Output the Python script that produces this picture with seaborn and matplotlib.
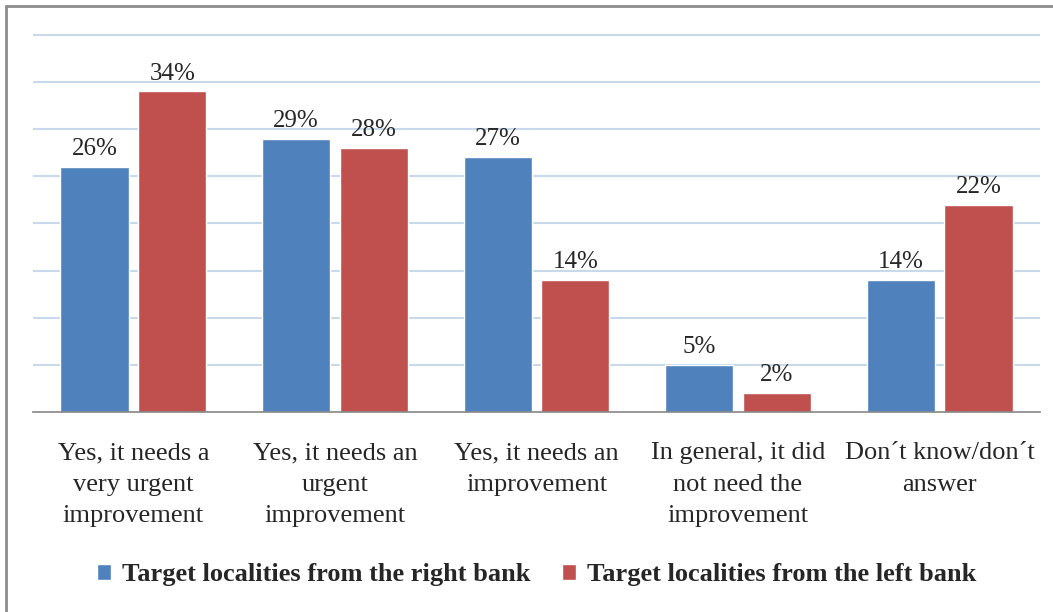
import numpy as np
import pandas as pd
import seaborn as sns
import matplotlib.pyplot as plt
from matplotlib.lines import Line2D

categories = ["Yes, it needs a\nvery urgent\nimprovement",
              "Yes, it needs an\nurgent\nimprovement",
              "Yes, it needs an\nimprovement",
              "In general, it did\nnot need the\nimprovement",
              "Don\u00b4t know/don\u00b4t\nanswer"]
series = ["Target localities from the right bank", "Target localities from the left bank"]
right_bank = [26, 29, 27, 5, 14]
left_bank = [34, 28, 14, 2, 22]

df = pd.DataFrame({
    "category": categories * 2,
    "group": [series[0]] * 5 + [series[1]] * 5,
    "value": right_bank + left_bank,
})

sns.set_style("white")
plt.rcParams["font.family"] = ["Liberation Serif", "DejaVu Serif"]

fig = plt.figure(figsize=(10.53, 6.12), dpi=100)
ax = fig.add_axes([0.031, 0.327, 0.957, 0.619])

sns.barplot(data=df, x="category", y="value", hue="group", order=categories,
            hue_order=series, palette=["#4F81BD", "#C0504D"],
            width=0.77, gap=0.12, saturation=1, ax=ax, legend=True)

ax.set_ylim(0, 40.2)
ax.set_xlim(-0.5, 4.5)
ax.set_yticks(np.arange(5, 45, 5))
ax.yaxis.grid(True, color="#C9D9EC", linewidth=1.5)
ax.set_axisbelow(True)
ax.tick_params(axis="y", left=False, labelleft=False)
for s in ["left", "right", "top"]:
    ax.spines[s].set_visible(False)
ax.spines["bottom"].set_color("#868686")
ax.spines["bottom"].set_linewidth(1.2)

ax.set_xticks(range(5))
ax.set_xticklabels(categories, fontsize=19, linespacing=1.55)
ax.set_xticks(np.arange(-0.5, 5, 1), minor=True)
ax.tick_params(axis="x", which="major", length=0, pad=22)
ax.tick_params(axis="x", which="minor", length=7, width=1.2, color="#868686", direction="out")
ax.set_xlabel("")
ax.set_ylabel("")

for cont in ax.containers:
    for bar in cont:
        h = bar.get_height()
        ax.annotate(f"{h:.0f}%", (bar.get_x() + bar.get_width() / 2, h),
                    xytext=(0, 5), textcoords="offset points",
                    ha="center", va="bottom", fontsize=18)

ax.legend(loc="center", bbox_to_anchor=(0.5, -0.43), ncol=2, frameon=False,
          prop={"weight": "bold", "size": 19}, handlelength=0.55, handleheight=0.55,
          handletextpad=0.4, columnspacing=1.2)

# figure border (top and left visible)
fig.add_artist(Line2D([0.006, 1.0], [0.99, 0.99], color="#8C8C8C", lw=2, transform=fig.transFigure))
fig.add_artist(Line2D([0.006, 0.006], [0.0, 0.99], color="#8C8C8C", lw=2, transform=fig.transFigure))

fig.savefig("out.png", dpi=100)
